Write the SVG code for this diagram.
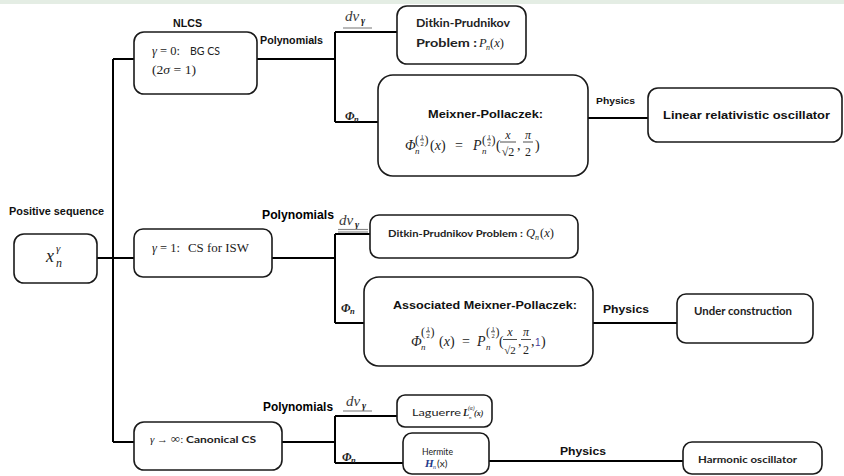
<svg xmlns="http://www.w3.org/2000/svg" xmlns:xlink="http://www.w3.org/1999/xlink" width="844" height="476" viewBox="0 0 844 476">
<style>
.box{fill:#fff;stroke:#1a1a1a;stroke-width:1.6}
.conn{fill:none;stroke:#000;stroke-width:2}
.ul{stroke:#8a8a8a;stroke-width:1.2}
.fl{stroke:#222;stroke-width:0.8}
.b{font-family:"Liberation Sans",Arial,sans-serif;font-weight:bold;fill:#111}
.n{font-family:"Liberation Sans",Arial,sans-serif;fill:#000}
.c{font-family:Lato,"Open Sans",sans-serif;font-weight:bold;fill:#222}
.cn{font-family:Lato,"Open Sans",sans-serif;font-weight:normal;fill:#222}
.m{font-family:"Liberation Serif","DejaVu Serif",serif;font-style:italic;fill:#222}
.r{font-family:"Liberation Serif","DejaVu Serif",serif;fill:#222}
.dv{font-family:"Liberation Serif","DejaVu Serif",serif;font-style:italic;fill:#3a3a3a;font-size:15px}
.phi{font-family:"Liberation Serif","DejaVu Serif",serif;font-style:italic;font-weight:bold;fill:#222;font-size:12px}
.sub{font-family:"Liberation Serif","DejaVu Serif",serif;font-style:italic;font-weight:bold;fill:#222;font-size:8.5px}
</style>
<defs>
<g id="half">
<text class="r" x="0" y="0" font-size="12">(</text>
<text class="r" x="7" y="-5.5" font-size="6.5" text-anchor="middle">1</text>
<line class="fl" x1="5" y1="-4.2" x2="9" y2="-4.2"/>
<text class="r" x="7" y="1.5" font-size="6.5" text-anchor="middle">2</text>
<text class="r" x="9.5" y="0" font-size="12">)</text>
</g>
</defs>
<rect x="0" y="0" width="844" height="4" fill="#e4ede4"/>

<g id="connectors">
<path class="conn" d="M113,59 V442"/>
<path class="conn" d="M113,59 H134"/>
<path class="conn" d="M97,258 H134"/>
<path class="conn" d="M113,442 H134"/>
<path class="conn" d="M257,59 H335 M335,32 V122 M335,32 H397 M335,122 H378"/>
<path class="conn" d="M588,118 H648"/>
<path class="conn" d="M272,258 H335 M335,234 V323 M335,234 H370 M335,323 H364"/>
<path class="conn" d="M593,323 H677"/>
<path class="conn" d="M282,442 H335 M335,416 V463 M335,416 H397 M335,463 H403"/>
<path class="conn" d="M489,461 H683"/>
<text class="b" x="260" y="44" font-size="10.5" textLength="63" lengthAdjust="spacingAndGlyphs">Polynomials</text>
<text class="dv" x="345" y="21">dv</text><text class="m" x="361" y="24" font-size="10" font-weight="bold">γ</text>
<line class="ul" x1="343" y1="28" x2="372" y2="28"/>
<text class="phi" x="345" y="120">Φ</text><text class="sub" x="354" y="122">n</text>
<text class="b" x="596" y="104" font-size="9.5" textLength="39" lengthAdjust="spacingAndGlyphs">Physics</text>
<text class="n" x="262" y="219" font-size="12" textLength="72" lengthAdjust="spacingAndGlyphs" font-weight="600">Polynomials</text>
<text class="dv" x="339" y="225">dv</text><text class="m" x="355" y="228" font-size="10" font-weight="bold">γ</text>
<line class="ul" x1="338" y1="229.5" x2="368" y2="229.5"/>
<line class="ul" x1="338" y1="232" x2="368" y2="232"/>
<text class="phi" x="341" y="312">Φ</text><text class="sub" x="350" y="314">n</text>
<text class="b" x="603" y="313" font-size="11.5" textLength="46" lengthAdjust="spacingAndGlyphs">Physics</text>
<text class="n" x="263" y="411" font-size="12" textLength="70" lengthAdjust="spacingAndGlyphs" font-weight="600">Polynomials</text>
<text class="dv" x="346" y="406">dv</text><text class="m" x="362" y="409" font-size="10" font-weight="bold">γ</text>
<line class="ul" x1="343" y1="411" x2="372" y2="411"/>
<text class="phi" x="342" y="461">Φ</text><text class="sub" x="351" y="463">n</text>
<text class="b" x="560" y="455" font-size="11.5" textLength="46" lengthAdjust="spacingAndGlyphs">Physics</text>
</g>

<g id="n_x">
<text class="b" x="9" y="215" font-size="10" textLength="95" lengthAdjust="spacingAndGlyphs">Positive sequence</text>
<rect class="box" x="14" y="234" width="83" height="49" rx="10"/>
<text class="m" x="46" y="262" font-size="18">x</text>
<text class="m" x="56" y="252" font-size="11">γ</text>
<text class="m" x="56" y="267" font-size="12">n</text>
</g>

<g id="n_nlcs">
<text class="b" x="173" y="27" font-size="10.5" textLength="29" lengthAdjust="spacingAndGlyphs">NLCS</text>
<rect class="box" x="134" y="32" width="123" height="62" rx="10"/>
<text class="r" x="152" y="55" font-size="12.5"><tspan font-style="italic">γ</tspan> = 0:</text>
<text class="cn" x="190" y="55" font-size="11" textLength="30" lengthAdjust="spacingAndGlyphs">BG CS</text>
<text class="r" x="152" y="74" font-size="12.5" textLength="44" lengthAdjust="spacingAndGlyphs">(2<tspan font-style="italic">σ</tspan> = 1)</text>
</g>

<g id="n_dp1">
<rect class="box" x="397" y="6" width="129" height="58" rx="10"/>
<text class="c" x="416" y="27" font-size="10.5" textLength="94" lengthAdjust="spacingAndGlyphs">Ditkin-Prudnikov</text>
<text class="c" x="416" y="47" font-size="10.5" textLength="61" lengthAdjust="spacingAndGlyphs">Problem :</text>
<text class="m" x="479" y="47" font-size="12.5">P</text>
<text class="m" x="486" y="50" font-size="8">n</text>
<text class="r" x="490" y="47" font-size="12.5">(<tspan font-style="italic">x</tspan>)</text>
</g>

<g id="n_mp">
<rect class="box" x="378" y="75" width="210" height="101" rx="15"/>
<text class="b" x="428" y="118" font-size="11.5" textLength="115" lengthAdjust="spacingAndGlyphs">Meixner-Pollaczek:</text>
<text class="m" x="405" y="150" font-size="14">Φ</text>
<text class="m" x="415" y="154" font-size="9">n</text>
<use xlink:href="#half" x="415" y="144"/>
<text class="r" x="430" y="150" font-size="14">(<tspan font-style="italic">x</tspan>)</text>
<text class="r" x="455" y="150" font-size="14">=</text>
<text class="m" x="473" y="150" font-size="14">P</text>
<text class="m" x="482" y="154" font-size="9">n</text>
<use xlink:href="#half" x="482" y="144"/>
<text class="r" x="496" y="150" font-size="14">(</text>
<text class="m" x="508" y="139" font-size="12" text-anchor="middle">x</text>
<line class="fl" x1="500" y1="142" x2="516" y2="142"/>
<text class="r" x="508" y="155.5" font-size="12" text-anchor="middle">√2</text>
<text class="r" x="517" y="150" font-size="14">,</text>
<text class="m" x="528" y="139" font-size="12" text-anchor="middle">π</text>
<line class="fl" x1="523" y1="142" x2="533" y2="142"/>
<text class="r" x="528" y="155.5" font-size="12" text-anchor="middle">2</text>
<text class="r" x="535" y="150" font-size="14">)</text>
</g>

<g id="n_lro">
<rect class="box" x="648" y="88" width="194" height="54" rx="10"/>
<text class="b" x="663" y="119" font-size="11.5" textLength="167" lengthAdjust="spacingAndGlyphs">Linear relativistic oscillator</text>
</g>

<g id="n_isw">
<rect class="box" x="134" y="229" width="138" height="48" rx="9"/>
<text class="r" x="152" y="252" font-size="12.5"><tspan font-style="italic">γ</tspan> = 1:</text>
<text class="r" x="188" y="252" font-size="12.5" textLength="61" lengthAdjust="spacingAndGlyphs">CS for ISW</text>
</g>

<g id="n_dp2">
<rect class="box" x="370" y="215" width="208" height="43" rx="9"/>
<text class="c" x="388" y="237" font-size="10" textLength="135" lengthAdjust="spacingAndGlyphs">Ditkin-Prudnikov Problem :</text>
<text class="m" x="526" y="237" font-size="12.5">Q</text>
<text class="m" x="535" y="240" font-size="8">n</text>
<text class="r" x="540" y="237" font-size="12.5">(<tspan font-style="italic">x</tspan>)</text>
</g>

<g id="n_amp">
<rect class="box" x="364" y="277" width="229" height="89" rx="15"/>
<text class="b" x="393" y="309" font-size="11.5" textLength="184" lengthAdjust="spacingAndGlyphs">Associated Meixner-Pollaczek:</text>
<text class="m" x="411" y="346" font-size="14">Φ</text>
<text class="m" x="421" y="350" font-size="9">n</text>
<use xlink:href="#half" x="421" y="336"/>
<text class="r" x="439" y="346" font-size="14">(<tspan font-style="italic">x</tspan>)</text>
<text class="r" x="462" y="346" font-size="14">=</text>
<text class="m" x="477" y="346" font-size="14">P</text>
<text class="m" x="486" y="350" font-size="9">n</text>
<use xlink:href="#half" x="486" y="336"/>
<text class="r" x="499" y="346" font-size="14">(</text>
<text class="m" x="510" y="336" font-size="12" text-anchor="middle">x</text>
<line class="fl" x1="503" y1="339.5" x2="517" y2="339.5"/>
<text class="r" x="510" y="354" font-size="11" text-anchor="middle">√2</text>
<text class="r" x="518" y="346" font-size="14">,</text>
<text class="m" x="526" y="336" font-size="12" text-anchor="middle">π</text>
<line class="fl" x1="521" y1="339.5" x2="531" y2="339.5"/>
<text class="r" x="526" y="354" font-size="12" text-anchor="middle">2</text>
<text class="r" x="531" y="346" font-size="14">,</text>
<text class="n" x="535" y="346" font-size="10" style="fill:#4b3a9a">1</text>
<text class="r" x="541" y="346" font-size="14">)</text>
</g>

<g id="n_uc">
<rect class="box" x="677" y="294" width="136" height="49" rx="9"/>
<text class="c" x="694" y="315" font-size="10.5" textLength="98" lengthAdjust="spacingAndGlyphs">Under construction</text>
</g>

<g id="n_can">
<rect class="box" x="134" y="422" width="148" height="48" rx="10"/>
<text class="r" x="150" y="443" font-size="11"><tspan font-style="italic">γ</tspan> → <tspan font-size="13">∞</tspan>:</text>
<text class="c" x="186" y="443" font-size="10" textLength="70" lengthAdjust="spacingAndGlyphs">Canonical CS</text>
</g>

<g id="n_lag">
<rect class="box" x="397" y="395" width="95" height="32" rx="8"/>
<text class="cn" x="412" y="416" font-size="9.5" textLength="49" lengthAdjust="spacingAndGlyphs">Laguerre</text>
<text class="m" x="463" y="416" font-size="10" font-weight="bold">L</text>
<text class="m" x="469" y="419" font-size="5">n</text>
<text class="m" x="468" y="410" font-size="5.5">(α)</text>
<text class="m" x="474" y="416" font-size="8" font-weight="bold">(x)</text>
</g>

<g id="n_her">
<rect class="box" x="403" y="433" width="86" height="41" rx="9"/>
<text class="cn" x="422" y="455" font-size="10" textLength="31" lengthAdjust="spacingAndGlyphs">Hermite</text>
<text class="m" x="425" y="467" font-size="11" font-weight="bold" style="fill:#1f3a8a">H</text>
<text class="m" x="433" y="469" font-size="6" style="fill:#1f3a8a">n</text>
<text class="cn" x="437" y="467" font-size="10">(x)</text>
</g>

<g id="n_ho">
<rect class="box" x="683" y="442" width="139" height="32" rx="9"/>
<text class="c" x="698" y="463" font-size="9.5" textLength="99" lengthAdjust="spacingAndGlyphs">Harmonic oscillator</text>
</g>
</svg>
